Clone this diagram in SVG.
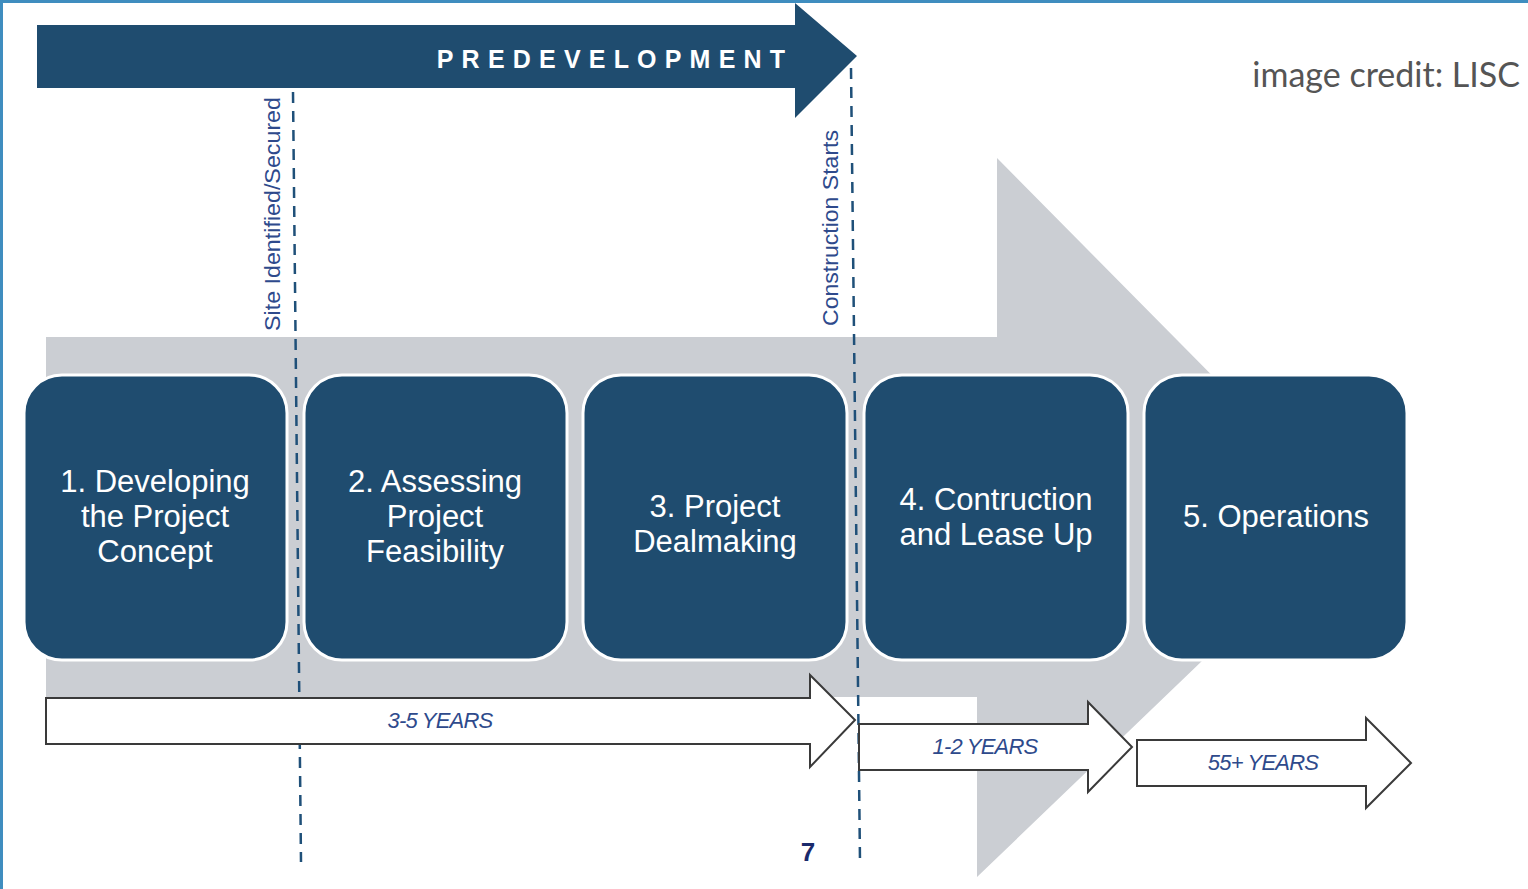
<svg xmlns="http://www.w3.org/2000/svg" width="1528" height="889" viewBox="0 0 1528 889">
<style>
.box{fill:#1f4c6f;stroke:#ffffff;stroke-width:3}
.bt{fill:#ffffff;font-family:"Liberation Sans",Arial,sans-serif;font-size:31px;text-anchor:middle}
.dash{stroke:#1f5079;stroke-width:2.5;stroke-dasharray:11 8;fill:none}
.wa{fill:#ffffff;stroke:#3a3a3a;stroke-width:2}
.yt{fill:#2e4a8c;font-family:"Liberation Sans",Arial,sans-serif;font-size:22px;font-style:italic;text-anchor:middle;letter-spacing:-0.8px}
.vt{fill:#2e4a8c;font-family:"Liberation Sans",Arial,sans-serif;font-size:22px}
</style>
<rect x="0" y="0" width="1528" height="889" fill="#ffffff"/>
<rect x="0" y="0" width="1528" height="3" fill="#3f8dbf"/>
<rect x="0" y="0" width="3" height="889" fill="#3f8dbf"/>
<g id="background-arrow">
<polygon points="46,337 997,337 997,158 1352,517 977,877 977,697 46,697" fill="#cbced3"/>
</g>
<g id="predevelopment">
<polygon points="37,25 795,25 795,3 857,56 795,118 795,88 37,88" fill="#1f4c6f"/>
<text x="615" y="68" fill="#ffffff" font-family="Liberation Sans,Arial,sans-serif" font-size="25" font-weight="bold" letter-spacing="8.2" text-anchor="middle">PREDEVELOPMENT</text>
</g>
<g id="connectors">
<line class="dash" x1="293" y1="92" x2="301" y2="862"/>
<line class="dash" x1="851" y1="68" x2="860" y2="862"/>
</g>
<g id="milestone-site">
<text class="vt" transform="translate(280,331) rotate(-90)" textLength="234" lengthAdjust="spacingAndGlyphs">Site Identified/Secured</text>
</g>
<g id="milestone-construction">
<text class="vt" transform="translate(838,326) rotate(-90)" textLength="196" lengthAdjust="spacingAndGlyphs">Construction Starts</text>
</g>
<g id="step1">
<rect class="box" x="24" y="375" width="263" height="285" rx="38"/>
<text class="bt" x="155" y="492">1. Developing</text>
<text class="bt" x="155" y="527">the Project</text>
<text class="bt" x="155" y="562">Concept</text>
</g>
<g id="step2">
<rect class="box" x="304" y="375" width="263" height="285" rx="38"/>
<text class="bt" x="435" y="492">2. Assessing</text>
<text class="bt" x="435" y="527">Project</text>
<text class="bt" x="435" y="562">Feasibility</text>
</g>
<g id="step3">
<rect class="box" x="583" y="375" width="264" height="285" rx="38"/>
<text class="bt" x="715" y="517">3. Project</text>
<text class="bt" x="715" y="552">Dealmaking</text>
</g>
<g id="step4">
<rect class="box" x="864" y="375" width="264" height="285" rx="38"/>
<text class="bt" x="996" y="510">4. Contruction</text>
<text class="bt" x="996" y="545">and Lease Up</text>
</g>
<g id="step5">
<rect class="box" x="1144" y="375" width="263" height="285" rx="38"/>
<text class="bt" x="1276" y="527">5. Operations</text>
</g>
<g id="dur-3-5">
<polygon class="wa" points="46,698 810,698 810,675 855,720 810,767 810,744 46,744"/>
<text class="yt" x="440" y="728">3-5 YEARS</text>
</g>
<g id="dur-1-2">
<polygon class="wa" points="859,724 1088,724 1088,702 1132,747 1088,792 1088,770 859,770"/>
<text class="yt" x="985" y="754">1-2 YEARS</text>
</g>
<g id="dur-55">
<polygon class="wa" points="1137,740 1366,740 1366,718 1411,763 1366,808 1366,786 1137,786"/>
<text class="yt" x="1263" y="770">55+ YEARS</text>
</g>
<text x="808" y="861" fill="#1a2a6c" font-family="Liberation Sans,Arial,sans-serif" font-size="26" font-weight="bold" text-anchor="middle">7</text>
<text x="1520" y="87" fill="#555555" font-family="Lato,'Open Sans',sans-serif" font-size="34" text-anchor="end">image credit: LISC</text>
</svg>
